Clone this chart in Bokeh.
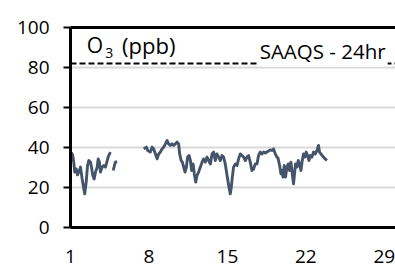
import math
from bokeh.plotting import figure
from bokeh.models import Span, Label, FixedTicker, LinearAxis
from bokeh.embed import file_html
from bokeh.resources import INLINE

NAN = float("nan")

# Day of month (hourly-ish samples), NaN = data gap
days = [1.09, 1.20, 1.29, 1.38, 1.51, 1.62, 1.74, 1.89, 2.04, 2.19, 2.27, 2.40, 2.52, 2.63,
        2.78, 2.87, 2.99, 3.11, 3.23, 3.38, 3.47, 3.58, 3.67, 3.83, 3.97, 4.12, 4.24, 4.36,
        4.48, 4.57, 4.69, 4.81, 4.92, 5.01, 5.16, 6.3,
        7.53, 7.77, 7.89, 8.13, 8.28, 8.42, 8.58, 8.73, 8.87, 9.02, 9.17, 9.32, 9.47, 9.62,
        9.76, 9.91, 10.06, 10.21, 10.36, 10.51, 10.65, 10.74, 10.87, 10.98, 11.10, 11.22,
        11.34, 11.45, 11.58, 11.70, 11.81, 11.94, 12.05, 12.17, 12.29, 12.43, 12.59, 12.74,
        12.88, 13.03, 13.18, 13.33, 13.48, 13.63, 13.77, 13.92, 14.07, 14.22, 14.37, 14.52,
        14.66, 14.81, 14.90, 15.02, 15.14, 15.26, 15.35, 15.44, 15.55, 15.71, 15.86, 16.00,
        16.15, 16.30, 16.45, 16.60, 16.75, 16.89, 17.04, 17.19, 17.34, 17.49, 17.64, 17.78,
        17.93, 18.09, 18.23, 18.38, 18.67, 18.83, 18.98, 19.12, 19.27, 19.42, 19.51, 19.66,
        19.78, 19.87, 19.96, 20.07, 20.19, 20.31, 20.43, 20.55, 20.67, 20.79, 20.90, 20.99,
        21.08, 21.21, 21.32, 21.44, 21.56, 21.68, 21.79, 21.92, 22.03, 22.15, 22.28, 22.39,
        22.54, 22.68, 22.84, 22.99, 23.13, 23.22, 23.34, 23.46, 23.57, 23.73, 23.88]

o3_ppb = [37.5, 36.0, 32.7, 27.7, 29.3, 26.3, 27.7, 30.2, 24.3, 19.3, 16.8, 22.7, 31.0, 33.5,
          32.7, 30.2, 26.0, 24.3, 27.7, 30.2, 34.3, 32.7, 27.7, 30.2, 31.0, 30.2, 32.7, 35.2,
          36.8, 37.7, NAN, 28.5, 31.0, 32.7, 33.0, NAN,
          39.3, 40.2, 38.5, 37.7, 40.2, 39.3, 36.8, 34.3, 36.8, 37.7, 39.3, 40.2, 41.8, 43.5,
          41.8, 41.0, 41.8, 41.0, 41.8, 42.7, 41.8, 36.8, 33.5, 32.7, 30.2, 27.7,
          30.2, 35.2, 36.0, 33.5, 28.5, 31.8, 26.8, 22.7, 26.0, 27.7, 30.2, 32.7,
          34.3, 32.7, 35.2, 33.5, 31.8, 36.8, 37.7, 33.5, 36.8, 35.2, 33.5, 36.0,
          35.2, 31.8, 28.5, 24.3, 20.2, 16.8, 20.2, 25.2, 30.2, 31.8, 31.0, 34.3,
          36.8, 36.0, 35.2, 33.5, 35.2, 36.0, 32.7, 28.5, 29.3, 31.8, 31.8, 36.0,
          37.7, 36.8, 37.7, 37.2, 38.2, 38.8, 38.5, 39.3, 36.8, 35.2, 34.8, 31.0,
          26.8, 28.5, 25.2, 31.0, 25.2, 30.2, 31.8, 28.5, 32.7, 26.8, 21.8, 26.8,
          31.8, 30.2, 33.5, 31.8, 28.5, 33.5, 36.8, 35.2, 37.7, 36.0, 33.5, 36.0,
          35.2, 37.7, 36.8, 38.5, 41.0, 37.7, 36.8, 36.0, 35.2, 34.3, 33.5]

x_ticks = [1, 8, 15, 22, 29]
y_ticks = [0, 20, 40, 60, 80, 100]
grid_ticks = [20, 40, 60, 80]
saaqs_24hr = 82
title_main = "O"
title_sub = "3"
title_unit = "(ppb)"
limit_label = "SAAQS - 24hr"

FONT = "Open Sans"

p = figure(width=395, height=267, x_range=(1, 30), y_range=(0, 100),
           output_backend="svg", toolbar_location=None,
           min_border_left=70, min_border_right=0, min_border_top=27, min_border_bottom=40)
p.outline_line_color = None
p.background_fill_color = "white"

p.line(days, o3_ppb, line_color="#44546A", line_width=2.9, line_join="round")

# axes
p.xaxis.ticker = FixedTicker(ticks=x_ticks)
p.yaxis.ticker = FixedTicker(ticks=y_ticks)
p.xgrid.grid_line_color = None
p.ygrid.ticker = FixedTicker(ticks=grid_ticks)
p.ygrid.grid_line_color = "#D9D9D9"
p.ygrid.grid_line_width = 2

for ax in (p.xaxis[0], p.yaxis[0]):
    ax.axis_line_color = "black"
    ax.axis_line_width = 3
    ax.minor_tick_line_color = None
    ax.major_label_text_font = FONT
    ax.major_label_text_font_size = "19px"
    ax.major_label_text_color = "black"

p.xaxis.major_tick_line_color = None
p.xaxis.major_tick_out = 0
p.xaxis.major_tick_in = 0
p.xaxis.major_label_standoff = 22

p.yaxis.major_tick_line_color = "black"
p.yaxis.major_tick_line_width = 2
p.yaxis.major_tick_out = 7
p.yaxis.major_tick_in = 0
p.yaxis.major_label_standoff = 14

# top border line drawn as a bare axis
top_axis = LinearAxis(ticker=FixedTicker(ticks=[]), axis_line_color="black", axis_line_width=3,
                      major_tick_line_color=None, minor_tick_line_color=None,
                      major_label_text_font_size="0px")
p.add_layout(top_axis, "above")

# standard line
p.add_layout(Span(location=saaqs_24hr, dimension="width", line_color="black",
                  line_width=2, line_dash="6 3"))

# title O3 (ppb)
p.add_layout(Label(x=2.45, y=91.5, text=title_main, text_font=FONT, text_font_size="21px",
                   text_color="black", text_baseline="alphabetic"))
p.add_layout(Label(x=4.1, y=87.5, text=title_sub, text_font=FONT, text_font_size="14px",
                   text_color="black", text_baseline="alphabetic"))
p.add_layout(Label(x=5.6, y=91.5, text=title_unit, text_font=FONT, text_font_size="22px",
                   text_color="black", text_baseline="alphabetic"))

# standard label
p.add_layout(Label(x=29.3, y=88.5, text=limit_label, text_font=FONT, text_font_size="20.5px",
                   text_color="black", text_align="right", text_baseline="alphabetic",
                   background_fill_color="white", padding=2))

open("out.html", "w").write(file_html(p, INLINE))
